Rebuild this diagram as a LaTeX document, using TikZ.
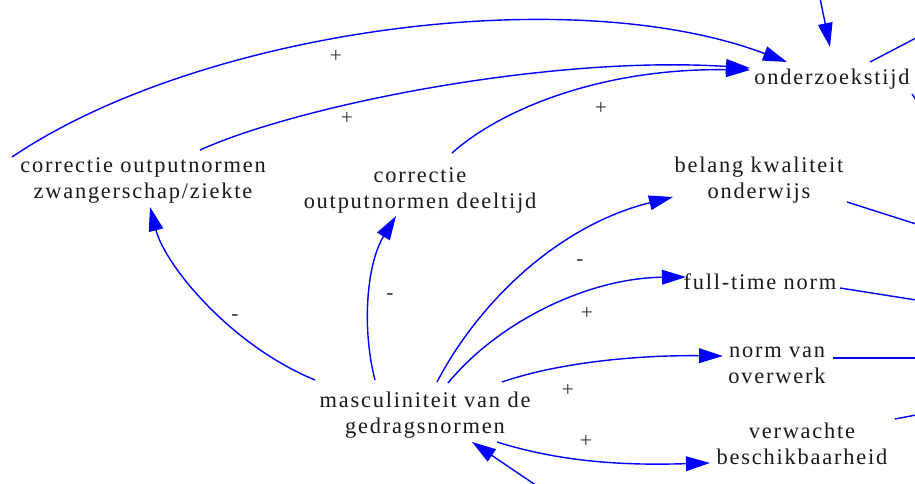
\documentclass[tikz,border=0pt]{standalone}
\usepackage{fontspec}
\setmainfont{Liberation Serif}[LetterSpace=8]
\usetikzlibrary{arrows.meta}
\begin{document}
\begin{tikzpicture}[x=0.75pt,y=-0.75pt,
  var/.style={anchor=base,align=center,inner sep=0pt,font=\fontsize{16.8pt}{20pt}\selectfont,text=black!90},
  sign/.style={font=\fontsize{16pt}{18pt}\selectfont,text=black!80,inner sep=0pt},
  link/.style={draw=blue,line width=1.05pt,-{Triangle[length=18pt,width=11pt]}},
  stub/.style={draw=blue,line width=1.05pt}]
\useasboundingbox (0,0) rectangle (915,484);
% variables (base = baseline of last line)
\node[var] (onderz) at (832,85) {onderzoekstijd};
\node[var] (zwang) at (143,199) {correctie outputnormen\\zwangerschap/ziekte};
\node[var] (deelt) at (420,209) {correctie\\outputnormen deeltijd};
\node[var] (belang) at (759,199) {belang kwaliteit\\onderwijs};
\node[var] (fulltime) at (760,290) {full-time norm};
\node[var] (overwerk) at (777,384) {norm van\\overwerk};
\node[var] (mascu) at (425,434) {masculiniteit van de\\gedragsnormen};
\node[var] (verw) at (802,465) {verwachte\\beschikbaarheid};
% free ends
\coordinate (top) at (820,-2);
\coordinate (outA) at (916,38);
\coordinate (outB) at (916,100);
\coordinate (bottom) at (537,486);
\coordinate (outC) at (916,224);
\coordinate (outD) at (916,300);
\coordinate (outE) at (916,358);
\coordinate (outF) at (916,415);
% links to onderzoekstijd
\draw[link] ([shift={(-131,-42)}]zwang.base) .. controls (200,30) and (570,-20) .. ([shift={(-45,-23)}]onderz.base);
\draw[link] ([shift={(57,-49)}]zwang.base) .. controls (300,105) and (550,55) .. ([shift={(-82,-17)}]onderz.base);
\draw[link] ([shift={(32,-56)}]deelt.base) .. controls (500,110) and (600,68) .. ([shift={(-82,-15)}]onderz.base);
\draw[link] (top) -- ([shift={(-2,-38)}]onderz.base);
\draw[stub] ([shift={(38,-23)}]onderz.base) -- (outA);
\draw[stub] ([shift={(80,9)}]onderz.base) -- (outB);
% links from masculiniteit
\draw[link] ([shift={(-110,-54)}]mascu.base) .. controls (230,345) and (165,265) .. ([shift={(7,8)}]zwang.base);
\draw[link] ([shift={(-50,-54)}]mascu.base) .. controls (362,330) and (366,265) .. ([shift={(-24,7)}]deelt.base);
\draw[link] ([shift={(12,-52)}]mascu.base) .. controls (480,300) and (560,225) .. ([shift={(-86,-2)}]belang.base);
\draw[link] ([shift={(23,-51)}]mascu.base) .. controls (500,320) and (590,278) .. ([shift={(-74,-13)}]fulltime.base);
\draw[link] ([shift={(77,-52)}]mascu.base) .. controls (560,362) and (640,355) .. ([shift={(-54,-28)}]overwerk.base);
\draw[link] ([shift={(72,8)}]mascu.base) .. controls (570,465) and (640,465) .. ([shift={(-92,-2)}]verw.base);
\draw[link] (bottom) -- ([shift={(47,8)}]mascu.base);
% outgoing stubs on the right
\draw[stub] ([shift={(88,3)}]belang.base) -- (outC);
\draw[stub] ([shift={(80,-2)}]fulltime.base) -- (outD);
\draw[stub] ([shift={(56,-26)}]overwerk.base) -- (outE);
\draw[stub] ([shift={(93,-46)}]verw.base) -- (outF);
% polarity signs
\node[sign] (s1) at (336,56) {+};
\node[sign] (s2) at (347,118) {+};
\node[sign] (s3) at (601,108) {+};
\node[sign] (s4) at (235,318) {-};
\node[sign] (s5) at (390,297) {-};
\node[sign] (s6) at (580,263) {-};
\node[sign] (s7) at (587,313) {+};
\node[sign] (s8) at (568,390) {+};
\node[sign] (s9) at (586,441) {+};
\end{tikzpicture}
\end{document}
